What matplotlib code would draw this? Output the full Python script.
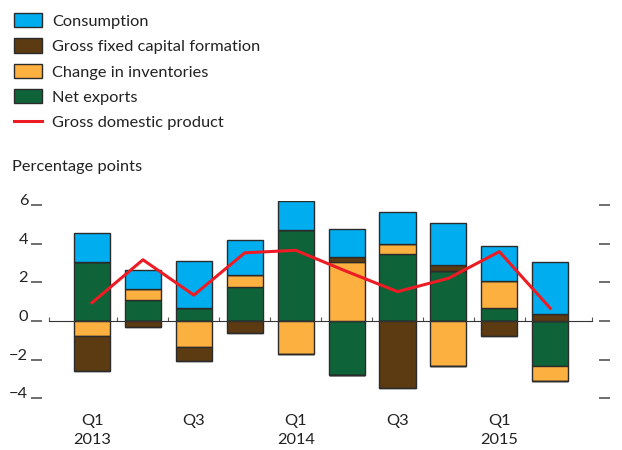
import numpy as np
import matplotlib.pyplot as plt
from matplotlib.patches import Patch
from matplotlib.lines import Line2D
from matplotlib.transforms import ScaledTranslation, blended_transform_factory

plt.rcParams['font.family'] = ['Lato', 'DejaVu Sans']

# Contributions to GDP growth, percentage points
quarters = ['Q1 2013', 'Q2 2013', 'Q3 2013', 'Q4 2013', 'Q1 2014',
            'Q2 2014', 'Q3 2014', 'Q4 2014', 'Q1 2015', 'Q2 2015']
net_exports = [3.07, 1.09, 0.66, 1.74, 4.71, -2.81, 3.47, 2.57, 0.66, -2.34]
inventories = [-0.78, 0.55, -1.36, 0.62, -1.72, 3.03, 0.50, -2.31, 1.41, -0.76]
gfcf = [-1.78, -0.29, -0.69, -0.64, 0.0, 0.26, -3.47, 0.34, -0.78, 0.34]
consumption = [1.47, 0.98, 2.43, 1.81, 1.52, 1.47, 1.67, 2.14, 1.83, 2.71]
gdp = [0.95, 3.17, 1.34, 3.53, 3.66, 2.57, 1.52, 2.21, 3.59, 0.66]

tick_labels = {0: 'Q1\n2013', 2: 'Q3', 4: 'Q1\n2014', 6: 'Q3', 8: 'Q1\n2015'}
yticks = [-4, -2, 0, 2, 4, 6]

series = [('Net exports', net_exports, '#0f6338'),
          ('Change in inventories', inventories, '#fbb040'),
          ('Gross fixed capital formation', gfcf, '#5c3a12'),
          ('Consumption', consumption, '#00aeef')]

FS = 11.8  # pt

fig = plt.figure(figsize=(6.22, 4.5), dpi=100)
ax = fig.add_axes([49/622, 0.1062, (592-49)/622, 0.4467])

x = np.arange(len(quarters))
pos_base = np.zeros(len(x))
neg_base = np.zeros(len(x))
for name, vals, col in series:
    v = np.array(vals)
    pos = np.where(v > 0, v, 0)
    neg = np.where(v < 0, v, 0)
    ax.bar(x, pos, 0.71, bottom=pos_base, color=col, edgecolor='#2b2b2b', linewidth=1, zorder=2)
    ax.bar(x, neg, 0.71, bottom=neg_base, color=col, edgecolor='#2b2b2b', linewidth=1, zorder=2)
    pos_base += pos
    neg_base += neg

ax.plot(x, gdp, color='#ed1c24', linewidth=2.2, zorder=4)

ax.set_xlim(-0.845, 9.82)
ax.set_ylim(-4.2, 6.2)

# zero line as the bottom spine, with small separators between quarters
ax.spines['top'].set_visible(False)
ax.spines['bottom'].set_position(('data', 0))
ax.spines['bottom'].set_color('#333333')
ax.spines['bottom'].set_zorder(3)
ax.set_xticks(list(np.arange(0.5, 9, 1.0)) + [-0.845, 9.82])
ax.tick_params(axis='x', direction='in', length=3, color='#555555', labelbottom=False)

ax.spines['left'].set_position(('outward', 5))
ax.spines['right'].set_position(('outward', 5))
ax.spines['left'].set_visible(False)
ax.spines['right'].set_visible(False)
ax.set_yticks(yticks)
ax.set_yticklabels(['\u22124', '\u22122', '0', '2', '4', '6'])
ax.tick_params(axis='y', direction='out', length=8, width=1.2, color='#555555',
               labelsize=FS, pad=2, right=True, labelcolor='#222222')
for lab in ax.get_yticklabels():
    lab.set_transform(lab.get_transform() + ScaledTranslation(0, 4/72, fig.dpi_scale_trans))

trans = blended_transform_factory(ax.transData, fig.transFigure)
for i, t in tick_labels.items():
    ax.text(i, 1 - 414/450, t, transform=trans, ha='center', va='top',
            fontsize=FS, color='#222222', linespacing=1.48)

fig.text(12/622, 1 - 167/450, 'Percentage points', ha='left', va='center',
         fontsize=FS, color='#222222')

handles = [Patch(facecolor=c, edgecolor='#2b2b2b', linewidth=1) for _, _, c in series[::-1]]
handles.append(Line2D([], [], color='#ed1c24', linewidth=2.2))
labels = [n for n, _, _ in series[::-1]] + ['Gross domestic product']
fpx = FS * 100 / 72
fig.legend(handles, labels, loc='upper left', bbox_to_anchor=(14/622, 1 - 13/450),
           frameon=False, fontsize=FS, handlelength=28/fpx, handleheight=16/fpx,
           handletextpad=10/fpx, labelspacing=0.58, borderpad=0, borderaxespad=0,
           labelcolor='#222222')

fig.savefig('out.png', dpi=100)
